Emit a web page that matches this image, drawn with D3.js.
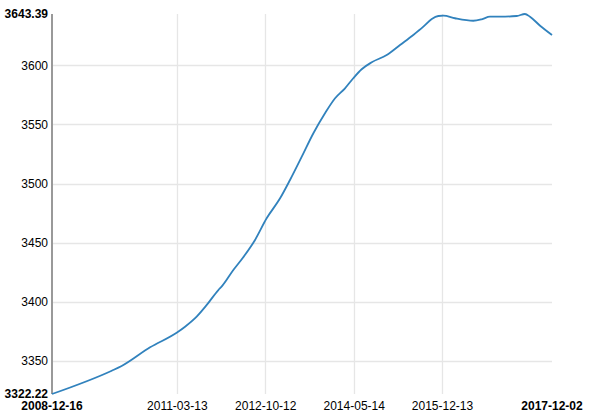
<!DOCTYPE html>
<html>
<head>
<meta charset="utf-8">
<script src="https://cdn.jsdelivr.net/npm/d3@7"></script>
<style>
  html, body { margin: 0; padding: 0; background: #fff; }
  svg { display: block; font-family: "Liberation Sans", Arial, sans-serif; }
</style>
</head>
<body>
<svg id="chart" width="602" height="415"></svg>
<script>
const dates = [
  "2008-12-16","2010-01-11","2010-03-17","2010-09-19","2011-03-12","2011-05-06",
  "2011-07-21","2011-09-25","2011-12-10","2011-12-31","2012-03-17","2012-05-21",
  "2012-08-06","2012-10-21","2013-01-17","2013-03-23","2013-06-08","2013-08-23",
  "2013-11-07","2014-01-12","2014-03-18","2014-05-11","2014-07-05","2014-09-09",
  "2014-12-16","2015-03-13","2015-06-08","2015-08-13","2015-10-07","2015-11-19",
  "2015-12-22","2016-03-07","2016-07-05","2016-08-29","2016-10-22","2016-12-27",
  "2017-04-15","2017-06-08","2017-07-11","2017-09-15","2017-12-02"
];
const values = [
  3322.22,3341.9,3345.9,3361.7,3374.0,3379.1,
  3387.6,3397.5,3410.1,3412.9,3427.0,3437.8,
  3452.4,3470.7,3487.6,3503.1,3522.8,3542.6,
  3559.5,3572.2,3580.6,3589.1,3596.7,3602.6,
  3608.7,3617.2,3625.7,3632.7,3639.2,3641.7,
  3642.0,3639.8,3637.7,3638.9,3641.1,3641.1,
  3641.7,3643.39,3641.1,3633.5,3625.7
];
const xTickLabels = ["2011-03-13","2012-10-12","2014-05-14","2015-12-13"];
const yTickValues = [3350,3400,3450,3500,3550,3600];

const parse = d3.timeParse("%Y-%m-%d");
const fmt = d3.timeFormat("%Y-%m-%d");
const data = dates.map((d, i) => ({ date: parse(d), value: values[i] }));

const margin = { left: 52, right: 50, top: 14, bottom: 21 };
const W = 602, H = 415;
const svg = d3.select("#chart");

const xExt = d3.extent(data, d => d.date);
const yExt = d3.extent(data, d => d.value);
const x = d3.scaleTime().domain(xExt).range([margin.left, W - margin.right]);
const y = d3.scaleLinear().domain(yExt).range([H - margin.bottom, margin.top]);

const xTicks = xTickLabels.map(parse);

// grid
const grid = svg.append("g").attr("class", "grid");
grid.selectAll("line.h").data(yTickValues).enter().append("line")
  .attr("x1", margin.left).attr("x2", W - margin.right)
  .attr("y1", d => Math.round(y(d)) + 0.5).attr("y2", d => Math.round(y(d)) + 0.5)
  .attr("stroke", "#e6e6e6").attr("stroke-width", 1.3);
grid.selectAll("line.v").data(xTicks).enter().append("line")
  .attr("x1", d => Math.round(x(d)) + 0.5).attr("x2", d => Math.round(x(d)) + 0.5)
  .attr("y1", margin.top).attr("y2", H - margin.bottom)
  .attr("stroke", "#e6e6e6").attr("stroke-width", 1.3);

// y axis
const yAxis = d3.axisLeft(y).tickValues(yTickValues).tickSize(0).tickPadding(4).tickFormat(d3.format("d"));
const gy = svg.append("g").attr("transform", `translate(${margin.left},0)`).call(yAxis);
gy.select(".domain").remove();
gy.selectAll("text").attr("font-size", 12).attr("fill", "#000").attr("font-family", "'Liberation Sans', Arial, sans-serif");
svg.append("line")
  .attr("x1", margin.left).attr("x2", margin.left)
  .attr("y1", y(yExt[1])).attr("y2", y(yExt[0]))
  .attr("stroke", "#999").attr("stroke-width", 2);

// y extent labels
svg.selectAll("text.yext").data(yExt).enter().append("text")
  .attr("class", "yext")
  .attr("x", margin.left - 4).attr("y", d => y(d))
  .attr("dy", "0.35em").attr("text-anchor", "end")
  .attr("font-size", 12).attr("font-weight", "bold").attr("fill", "#000")
  .text(d => d3.format(".2f")(d));

// x axis
const xAxis = d3.axisBottom(x).tickValues(xTicks).tickSize(0).tickPadding(7).tickFormat(fmt);
const gx = svg.append("g").attr("transform", `translate(0,${H - margin.bottom})`).call(xAxis);
gx.select(".domain").remove();
gx.selectAll("text").attr("font-size", 12).attr("fill", "#000").attr("font-family", "'Liberation Sans', Arial, sans-serif");

svg.selectAll("text.xext").data(xExt).enter().append("text")
  .attr("class", "xext")
  .attr("x", d => x(d)).attr("y", H - margin.bottom + 15.5)
  .attr("text-anchor", "middle")
  .attr("font-size", 12).attr("font-weight", "bold").attr("fill", "#000")
  .text(d => fmt(d));

// line
const line = d3.line().x(d => x(d.date)).y(d => y(d.value)).curve(d3.curveMonotoneX);
svg.append("path").datum(data)
  .attr("d", line)
  .attr("fill", "none")
  .attr("stroke", "#3182bd")
  .attr("stroke-width", 1.8);
</script>
</body>
</html>
